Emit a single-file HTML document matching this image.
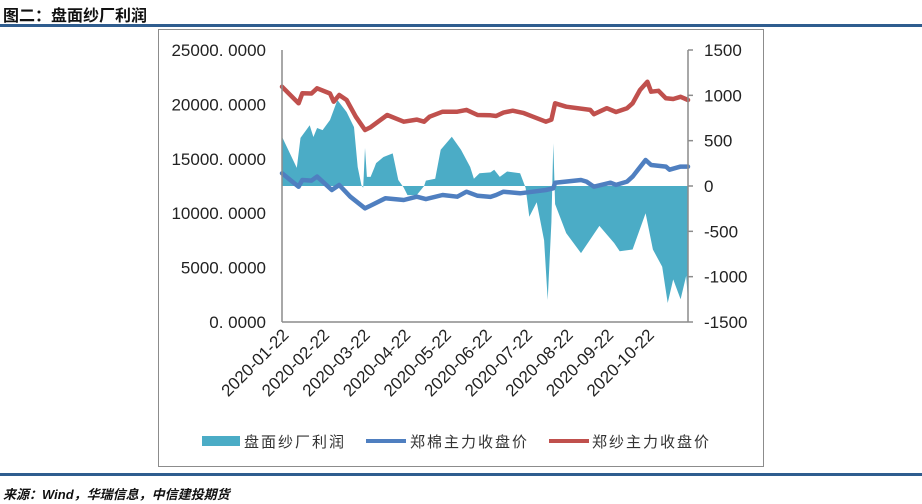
<!DOCTYPE html>
<html><head><meta charset="utf-8">
<style>
body{margin:0;width:922px;height:504px;background:#fff;overflow:hidden;font-family:"Liberation Sans","Noto Sans CJK SC",sans-serif;}
#title{position:absolute;left:3px;top:2px;font-size:16px;font-weight:bold;color:#111;font-family:"Liberation Sans","Noto Sans CJK SC",sans-serif;}
#topline{position:absolute;left:0;top:24px;width:922px;height:3px;background:#2f5d8f;}
#botline{position:absolute;left:0;top:473px;width:922px;height:3px;background:#2f5d8f;}
#source{position:absolute;left:3px;top:484px;font-size:13px;font-weight:bold;font-style:italic;color:#111;}
svg{position:absolute;left:0;top:0;}
</style></head><body>
<div id="title">图二：盘面纱厂利润</div>
<div id="topline"></div>
<svg id="chart" width="922" height="504"></svg>
<div id="botline"></div>
<div id="source">来源：Wind，华瑞信息，中信建投期货</div>
<script>
const totalDays = 220;
const profitDays = [0,8,10,15,17,19,22,26,30,35,39,41,43,44,45,46,48,50,51,55,60,63,66,68,73,77,78,83,86,92,97,102,104,107,113,115,118,122,129,132,134,138,142,144,146,147,148,154,162,167,172,180,183,190,197,201,206,209,212,216,219,220];
const profitVals = [544,200,530,670,540,640,617,728,948,816,650,210,10,-20,420,100,100,200,253,320,360,66,-20,-100,-100,0,60,80,400,544,400,210,80,140,150,180,100,160,140,-20,-340,-180,-600,-1256,-400,470,-200,-520,-740,-590,-440,-630,-720,-700,-300,-700,-890,-1290,-1030,-1250,-990,-1270];
const redDays = [0,9,11,16,19,26,28,31,35,40,45,48,57,66,73,77,80,87,95,100,106,113,116,120,125,131,136,143,146,148,154,167,169,176,181,187,190,194,198,200,204,208,212,216,220];
const redVals = [21630,20100,21020,21000,21480,21000,20250,20860,20400,18870,17650,17900,19030,18410,18600,18410,18870,19330,19330,19490,19030,19000,18930,19250,19420,19200,18870,18410,18600,20100,19790,19490,19100,19650,19300,19650,20100,21320,22080,21170,21250,20560,20500,20700,20400];
const blueDays = [0,9,11,16,19,27,31,37,45,48,56,66,73,78,87,95,100,106,113,116,120,129,136,143,147,148,162,165,169,178,181,187,190,197,200,208,210,216,220];
const blueVals = [13670,12440,13050,13000,13360,12130,12590,11520,10450,10700,11370,11210,11520,11300,11670,11520,11980,11600,11500,11670,11980,11830,11980,12130,12290,12800,13050,12900,12440,12800,12600,12900,13360,14890,14430,14280,14000,14280,14280];
const leftTicks = [0,5000,10000,15000,20000,25000];
const rightTicks = [-1500,-1000,-500,0,500,1000,1500];
const xTickDays = [2,24,46,68,90,112,134,156,178,200];
const xTickLabels = ["2020-01-22","2020-02-22","2020-03-22","2020-04-22","2020-05-22","2020-06-22","2020-07-22","2020-08-22","2020-09-22","2020-10-22"];

const NS="http://www.w3.org/2000/svg";
const svg=document.getElementById('chart');
const X0=282,X1=688,YT=50,YB=322;
const xs=d=>X0+(X1-X0)*d/totalDays;
const yl=v=>YB-(YB-YT)*v/25000;
const yr=v=>YB-(YB-YT)*(v+1500)/3000;
function mk(tag,attrs){const e=document.createElementNS(NS,tag);for(const k in attrs)e.setAttribute(k,attrs[k]);svg.appendChild(e);return e;}

let box=mk('rect',{x:158.5,y:29.5,width:605,height:437,fill:'none',stroke:'#8c8c8c','stroke-width':1});



let d='M'+xs(profitDays[0])+','+yr(0);
profitDays.forEach((dd,i)=>{d+=' L'+xs(dd).toFixed(1)+','+yr(profitVals[i]).toFixed(1);});
d+=' L'+xs(profitDays[profitDays.length-1])+','+yr(0)+' Z';
let area=mk('path',{d:d,fill:'#4bacc6'});



function line(days,vals,color,name){
  let p=days.map((dd,i)=>(i?'L':'M')+xs(dd).toFixed(1)+','+yl(vals[i]).toFixed(1)).join(' ');
  let e=mk('path',{d:p,fill:'none',stroke:color,'stroke-width':4.5,'stroke-linejoin':'round','stroke-linecap':'round'});
  
  
}
line(blueDays,blueVals,'#4f7fc0','cotton-price-line');
line(redDays,redVals,'#c0504d','yarn-price-line');

let la=mk('line',{x1:X0,y1:YT,x2:X0,y2:YB,stroke:'#8c8c8c','stroke-width':1.5});


let ra=mk('line',{x1:X1,y1:YT,x2:X1,y2:YB,stroke:'#8c8c8c','stroke-width':1.5});


let ba=mk('line',{x1:X0,y1:YB,x2:X1,y2:YB,stroke:'#8c8c8c','stroke-width':1.5});



leftTicks.forEach(v=>{
  let t=mk('text',{x:266,y:yl(v)+6,'text-anchor':'end','font-size':17,fill:'#222','font-family':'Liberation Sans, sans-serif'});
  t.textContent=v.toFixed(0)+'. 0000';
  
  
});
rightTicks.forEach(v=>{
  let tk=mk('line',{x1:X1,y1:yr(v),x2:X1+5,y2:yr(v),stroke:'#8c8c8c','stroke-width':1.5});
  
  
  let t=mk('text',{x:704,y:yr(v)+6,'font-size':17,fill:'#222','font-family':'Liberation Sans, sans-serif'});
  t.textContent=v;
  
  
});
xTickDays.forEach((dd,i)=>{
  let x=xs(dd)+4,y=YB+14;
  let t=mk('text',{x:x,y:y,'text-anchor':'end','font-size':17,fill:'#222','font-family':'Liberation Sans, sans-serif',transform:'rotate(-45 '+x+' '+y+')'});
  t.textContent=xTickLabels[i];
  
  
});

const lf='Liberation Sans, Noto Sans CJK SC, sans-serif';
let s1=mk('rect',{x:202,y:436,width:38,height:10,fill:'#4bacc6'});


let t1=mk('text',{x:244,y:447,'font-size':15,fill:'#333','font-family':lf,'letter-spacing':'2'});
t1.textContent='盘面纱厂利润';


let s2=mk('line',{x1:366,y1:441,x2:406,y2:441,stroke:'#4f7fc0','stroke-width':4});


let t2=mk('text',{x:410,y:447,'font-size':15,fill:'#333','font-family':lf,'letter-spacing':'2'});
t2.textContent='郑棉主力收盘价';


let s3=mk('line',{x1:549,y1:441,x2:589,y2:441,stroke:'#c0504d','stroke-width':4});


let t3=mk('text',{x:592,y:447,'font-size':15,fill:'#333','font-family':lf,'letter-spacing':'2'});
t3.textContent='郑纱主力收盘价';


</script>
</body></html>
